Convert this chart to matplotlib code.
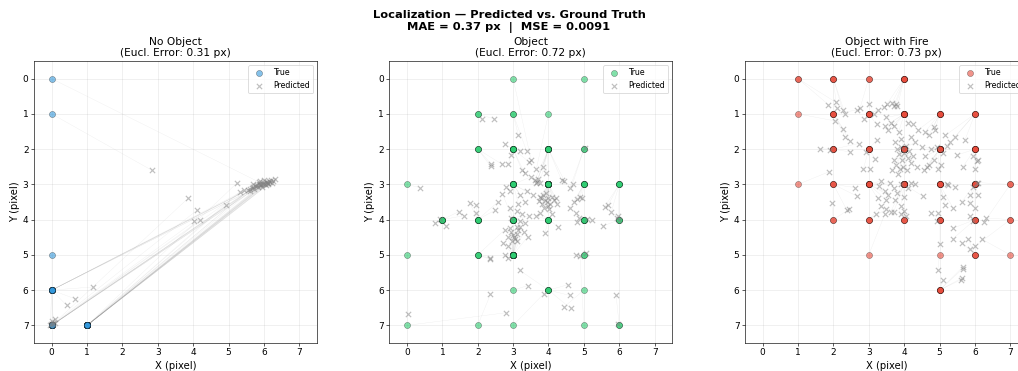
import numpy as np
import matplotlib.pyplot as plt

# ground-truth and predicted (x, y) pixel locations, one pair per sample

nobj_true = [
    (0, 0), (0, 1), (0, 5),
    (0, 6), (0, 6), (0, 6), (0, 6), (0, 6), (0, 6), (0, 6), (0, 6), (0, 6), (0, 6), (0, 6), (0, 6),
    (0, 7), (0, 7), (0, 7), (0, 7), (0, 7), (0, 7), (0, 7), (0, 7), (0, 7),
    (0, 7), (0, 7), (0, 7), (0, 7), (0, 7), (0, 7), (0, 7), (0, 7),
    (1, 7), (1, 7), (1, 7), (1, 7), (1, 7), (1, 7), (1, 7), (1, 7), (1, 7),
    (1, 7), (1, 7), (1, 7), (1, 7), (1, 7), (1, 7), (1, 7), (1, 7), (1, 7),
    (1, 7), (1, 7), (1, 7),
]
nobj_pred = [
    (5.95, 2.98), (2.83, 2.60), (0.00, 6.88),
    (0.67, 6.25), (0.42, 6.43), (1.16, 5.91), (0.05, 6.94), (-0.04, 7.00), (5.45, 3.17), (5.55, 3.16), (5.60, 3.12), (5.65, 3.10), (5.70, 3.08), (5.72, 3.12), (5.62, 3.18), (5.68, 3.00),
    (0.09, 6.83), (0.03, 6.97), (0.09, 6.92), (-0.03, 6.95), (3.85, 3.40), (4.03, 4.05), (4.20, 4.01), (4.11, 3.73), (5.75, 3.05),
    (5.78, 3.06), (5.80, 3.02), (5.82, 3.08), (5.85, 3.00), (5.88, 3.03), (5.90, 2.98), (5.92, 3.02), (5.97, 3.00),
    (4.93, 3.58), (5.25, 2.95), (5.31, 3.21), (6.00, 2.95), (6.02, 2.98), (6.05, 2.93), (6.08, 2.96), (6.10, 2.92), (6.12, 2.95),
    (6.15, 2.90), (6.18, 2.93), (6.20, 2.88), (6.25, 2.90), (6.32, 2.85), (5.90, 2.90), (6.05, 3.03), (5.85, 2.93), (6.00, 2.88),
    (6.12, 3.00), (5.95, 3.07), (6.22, 2.95),
]

obj_true = [
    (3, 0), (5, 0),
    (2, 1), (2, 1), (3, 1), (3, 1), (4, 1),
    (2, 2), (2, 2), (2, 2),
    (3, 2), (3, 2), (3, 2), (3, 2), (3, 2), (3, 2), (3, 2),
    (4, 2), (4, 2), (4, 2), (4, 2), (4, 2), (4, 2), (4, 2), (4, 2), (4, 2),
    (5, 2), (5, 2), (0, 3),
    (3, 3), (3, 3), (3, 3), (3, 3), (3, 3), (3, 3), (3, 3), (3, 3),
    (4, 3), (4, 3), (4, 3), (4, 3), (4, 3), (4, 3), (4, 3), (4, 3), (4, 3),
    (4, 3), (4, 3), (4, 3), (4, 3), (4, 3), (4, 3), (4, 3), (4, 3),
    (5, 3), (5, 3), (5, 3), (5, 3), (5, 3),
    (6, 3), (6, 3), (6, 3), (6, 3),
    (1, 4), (1, 4), (1, 4), (1, 4), (1, 4),
    (2, 4), (2, 4), (2, 4), (2, 4), (2, 4),
    (3, 4), (3, 4), (3, 4), (3, 4), (3, 4), (3, 4), (3, 4), (3, 4), (3, 4),
    (4, 4), (4, 4), (4, 4), (4, 4), (4, 4),
    (5, 4), (5, 4), (5, 4), (5, 4), (5, 4),
    (6, 4), (6, 4), (6, 4),
    (0, 5), (2, 5), (2, 5), (2, 5),
    (3, 5), (3, 5), (3, 5), (3, 5), (3, 5), (3, 5), (3, 5), (3, 5), (3, 5),
    (3, 5), (3, 5), (3, 5), (3, 5), (3, 5), (3, 5), (3, 5), (3, 5),
    (5, 5), (5, 5), (3, 6),
    (4, 6), (4, 6), (4, 6), (4, 6), (5, 6),
    (0, 7), (2, 7), (3, 7), (5, 7), (6, 7), (6, 7),
]
obj_pred = [
    (3.51, 2.31), (5.02, 1.96),
    (2.13, 1.14), (2.45, 1.14), (3.15, 1.61), (3.38, 2.05), (3.66, 2.55),
    (2.37, 2.41), (2.37, 2.49), (2.69, 2.43),
    (2.78, 1.86), (2.93, 2.17), (3.19, 2.05), (2.86, 2.43), (3.24, 2.58), (3.45, 2.36), (3.33, 2.69),
    (3.85, 2.50), (3.94, 2.69), (3.61, 2.88), (3.68, 2.92), (3.75, 2.97), (3.65, 2.97), (3.70, 2.85), (4.37, 2.88), (4.45, 2.90),
    (4.60, 3.11), (4.68, 2.99), (0.36, 3.09),
    (2.81, 3.07), (2.92, 3.20), (3.52, 2.78), (3.20, 3.30), (3.35, 3.50), (3.55, 3.30), (3.15, 3.55), (3.40, 3.20),
    (3.75, 3.35), (3.80, 3.40), (3.85, 3.30), (3.90, 3.45), (3.95, 3.50), (4.00, 3.40), (4.05, 3.55), (3.82, 3.55), (3.72, 3.48),
    (3.98, 3.62), (4.10, 3.35), (4.15, 3.45), (4.22, 3.40), (3.88, 3.68), (4.02, 3.70), (3.92, 3.25), (4.25, 3.55),
    (4.89, 3.35), (4.81, 3.42), (4.95, 3.40), (4.60, 3.68), (4.72, 3.50),
    (5.59, 3.63), (5.69, 3.58), (5.78, 3.77), (5.97, 3.91),
    (0.78, 4.10), (0.92, 3.98), (1.09, 4.18), (1.47, 3.77), (1.60, 3.89),
    (1.77, 3.52), (1.96, 3.58), (1.96, 3.82), (2.48, 3.74), (2.58, 3.49),
    (2.70, 3.27), (2.91, 3.68), (3.10, 3.75), (3.25, 3.85), (3.10, 4.20), (3.20, 4.05), (3.45, 3.90), (2.95, 3.95), (3.35, 4.10),
    (4.27, 4.20), (3.90, 4.38), (3.75, 3.80), (4.10, 3.85), (3.65, 3.90),
    (4.77, 3.82), (4.81, 4.08), (5.08, 3.99), (5.22, 4.01), (4.85, 3.95),
    (5.55, 4.18), (5.95, 3.95), (6.00, 4.02),
    (0.03, 6.69), (2.34, 5.09), (2.36, 5.13), (2.76, 4.29),
    (2.90, 4.25), (2.95, 4.35), (3.00, 4.45), (3.05, 4.55), (3.10, 4.40), (2.98, 4.62), (3.12, 4.60), (2.85, 4.50), (3.15, 4.30),
    (3.02, 4.50), (2.71, 4.65), (2.87, 4.75), (2.77, 5.00), (2.87, 5.09), (3.30, 4.35), (3.42, 4.48), (3.20, 4.20),
    (4.79, 5.00), (5.05, 4.95), (3.42, 5.87),
    (3.19, 5.44), (4.54, 5.85), (4.60, 6.15), (4.63, 6.52), (4.45, 6.47),
    (2.81, 6.64), (2.36, 6.12), (3.87, 6.10), (4.89, 5.04), (5.91, 6.14), (5.97, 6.95),
]

fire_true = [
    (1, 0), (1, 0), (2, 0), (2, 0), (2, 0), (3, 0), (3, 0),
    (4, 0), (4, 0), (4, 0), (4, 0), (4, 0),
    (1, 1), (2, 1), (2, 1), (2, 1), (2, 1),
    (3, 1), (3, 1), (3, 1), (3, 1), (3, 1),
    (4, 1), (4, 1), (4, 1), (4, 1), (4, 1), (4, 1), (4, 1), (4, 1),
    (5, 1), (5, 1), (5, 1), (5, 1), (5, 1),
    (6, 1), (6, 1), (6, 1), (6, 1),
    (2, 2), (2, 2), (2, 2), (2, 2),
    (3, 2), (3, 2), (3, 2), (3, 2), (3, 2),
    (4, 2), (4, 2), (4, 2), (4, 2), (4, 2), (4, 2), (4, 2), (4, 2), (4, 2), (4, 2), (4, 2),
    (4, 2), (4, 2), (4, 2), (4, 2), (4, 2), (4, 2), (4, 2), (4, 2), (4, 2), (4, 2), (4, 2),
    (5, 2), (5, 2), (5, 2), (5, 2), (5, 2), (5, 2), (5, 2), (5, 2), (5, 2), (5, 2), (5, 2), (5, 2),
    (6, 2), (6, 2), (6, 2), (6, 2), (6, 2), (6, 2),
    (1, 3), (2, 3), (2, 3), (2, 3),
    (3, 3), (3, 3), (3, 3), (3, 3), (3, 3), (3, 3), (3, 3),
    (4, 3), (4, 3), (4, 3), (4, 3), (4, 3), (4, 3), (4, 3), (4, 3), (4, 3), (4, 3), (4, 3), (4, 3),
    (5, 3), (5, 3), (5, 3), (5, 3), (5, 3), (5, 3),
    (6, 3), (6, 3), (6, 3), (6, 3), (6, 3), (6, 3), (6, 3),
    (7, 3), (7, 3), (2, 4), (2, 4),
    (3, 4), (3, 4), (3, 4), (4, 4), (4, 4), (4, 4),
    (5, 4), (5, 4), (5, 4), (5, 4),
    (6, 4), (6, 4), (6, 4), (6, 4), (7, 4), (7, 4),
    (3, 5), (5, 5), (6, 5), (6, 5), (6, 5), (7, 5),
    (5, 6), (5, 6), (5, 6), (5, 6), (5, 6),
]
fire_pred = [
    (1.86, 0.74), (2.07, 0.67), (2.09, 0.83), (2.26, 0.90), (2.33, 1.00), (2.75, 0.84), (3.02, 0.72),
    (3.65, 0.70), (3.71, 0.77), (3.77, 0.72), (3.81, 0.79), (3.51, 0.72),
    (2.05, 1.20), (2.28, 1.42), (2.33, 1.66), (2.47, 1.78), (2.66, 0.89),
    (2.87, 1.14), (3.27, 0.90), (3.43, 0.81), (3.22, 1.30), (3.15, 1.00),
    (3.50, 1.10), (3.62, 1.25), (3.45, 1.35), (3.72, 1.35), (3.55, 1.45), (3.85, 1.50), (4.10, 1.25), (4.25, 1.30),
    (4.83, 1.37), (4.88, 1.45), (4.60, 1.50), (4.70, 1.60), (4.40, 1.45),
    (5.16, 1.61), (5.44, 1.66), (5.72, 1.74), (5.30, 1.80),
    (1.62, 2.00), (1.90, 2.03), (2.47, 2.08), (2.71, 1.84),
    (2.92, 2.08), (3.22, 1.73), (2.85, 2.55), (3.03, 2.55), (3.18, 2.27),
    (3.75, 1.80), (3.80, 2.00), (3.85, 2.15), (3.90, 1.95), (3.95, 2.30), (4.00, 2.10), (4.05, 1.90), (4.10, 2.25), (4.15, 2.05), (4.20, 2.40), (3.70, 2.30),
    (3.78, 2.45), (3.88, 2.55), (3.98, 2.50), (4.08, 2.60), (4.25, 2.20), (4.30, 1.80), (4.18, 1.65), (3.92, 1.70), (4.35, 2.50), (3.65, 2.60), (3.82, 2.70),
    (4.50, 1.95), (4.60, 2.20), (4.70, 2.45), (4.75, 2.00), (4.85, 2.30), (4.92, 1.94), (4.55, 2.60), (4.65, 2.50), (4.95, 2.55), (5.10, 2.10), (5.20, 1.90), (5.05, 2.45),
    (5.49, 2.17), (5.66, 2.50), (5.94, 2.20), (6.00, 2.55), (6.05, 2.35), (6.08, 2.30),
    (1.88, 2.64), (2.61, 3.09), (2.66, 3.33), (2.38, 3.73),
    (3.30, 3.05), (3.45, 3.20), (3.35, 2.90), (3.60, 2.95), (3.55, 3.30), (3.25, 3.40), (3.50, 3.45),
    (3.70, 3.10), (3.80, 3.25), (3.90, 3.00), (3.75, 3.45), (3.90, 3.60), (4.00, 3.35), (4.20, 2.95), (4.30, 3.00), (4.52, 3.33), (3.62, 3.77), (3.70, 3.78), (4.10, 3.10),
    (5.25, 3.02), (5.44, 3.07), (5.11, 3.35), (5.16, 3.58), (5.39, 3.68), (5.20, 3.00),
    (5.63, 3.49), (5.86, 3.30), (5.86, 3.54), (6.00, 3.68), (6.10, 3.30), (6.05, 2.95), (5.95, 3.07),
    (6.26, 4.08), (6.08, 2.95), (1.95, 3.54), (2.45, 3.70),
    (3.20, 3.85), (3.35, 3.60), (3.50, 3.70), (3.90, 3.85), (4.05, 3.90), (4.00, 3.75),
    (4.97, 3.82), (4.92, 4.05), (5.00, 4.69), (4.75, 3.80),
    (5.96, 4.05), (5.85, 3.90), (5.37, 4.55), (5.39, 4.24), (6.00, 4.76), (6.30, 3.95),
    (3.45, 3.85), (4.95, 5.44), (5.86, 4.84), (5.81, 4.55), (5.63, 4.65), (6.19, 4.55),
    (5.11, 5.72), (5.67, 5.33), (5.63, 5.66), (5.62, 5.70), (5.65, 5.40),
]

titles = ['No Object', 'Object', 'Object with Fire']
colors = ['#3498db', '#2ecc71', '#e74c3c']
eucl_err = [0.31, 0.72, 0.73]
mae = 0.37
mse = 0.0091

fig = plt.figure(figsize=(18, 6.56), dpi=1018 / 18)
fig.suptitle(f'Localization \u2014 Predicted vs. Ground Truth\nMAE = {mae:.2f} px  |  MSE = {mse:.4f}',
             fontsize=14.7, fontweight='bold', y=0.972)

lefts = [0.0334, 0.3824, 0.7318]
panels = [(nobj_true, nobj_pred), (obj_true, obj_pred), (fire_true, fire_pred)]

for left, (t, p), title, color, err in zip(lefts, panels, titles, colors, eucl_err):
    ax = fig.add_axes([left, 0.0755, 0.278, 0.760])
    t = np.array(t, dtype=float)
    p = np.array(p, dtype=float)

    # connect each true point to its prediction
    for (tx, ty), (px, py) in zip(t, p):
        ax.plot([tx, px], [ty, py], color='gray', alpha=0.15, linewidth=0.45, zorder=1)

    ax.scatter(t[:, 0], t[:, 1], c=color, s=60, alpha=0.6, edgecolors='k',
               linewidths=0.5, label='True', zorder=3)
    ax.scatter(p[:, 0], p[:, 1], c='gray', marker='x', s=45, alpha=0.5,
               label='Predicted', zorder=4)

    ax.set_title(f'{title}\n(Eucl. Error: {err:.2f} px)', fontsize=13.5)
    ax.set_xlabel('X (pixel)', fontsize=12.8)
    ax.set_ylabel('Y (pixel)', fontsize=12.8)
    ax.tick_params(labelsize=11.5)
    ax.set_xlim(-0.5, 7.5)
    ax.set_ylim(7.5, -0.5)
    ax.set_xticks(range(8))
    ax.set_yticks(range(8))
    ax.grid(True, alpha=0.3)
    ax.legend(loc='upper right', fontsize=10)

fig.savefig('out.png', dpi=1018 / 18)
